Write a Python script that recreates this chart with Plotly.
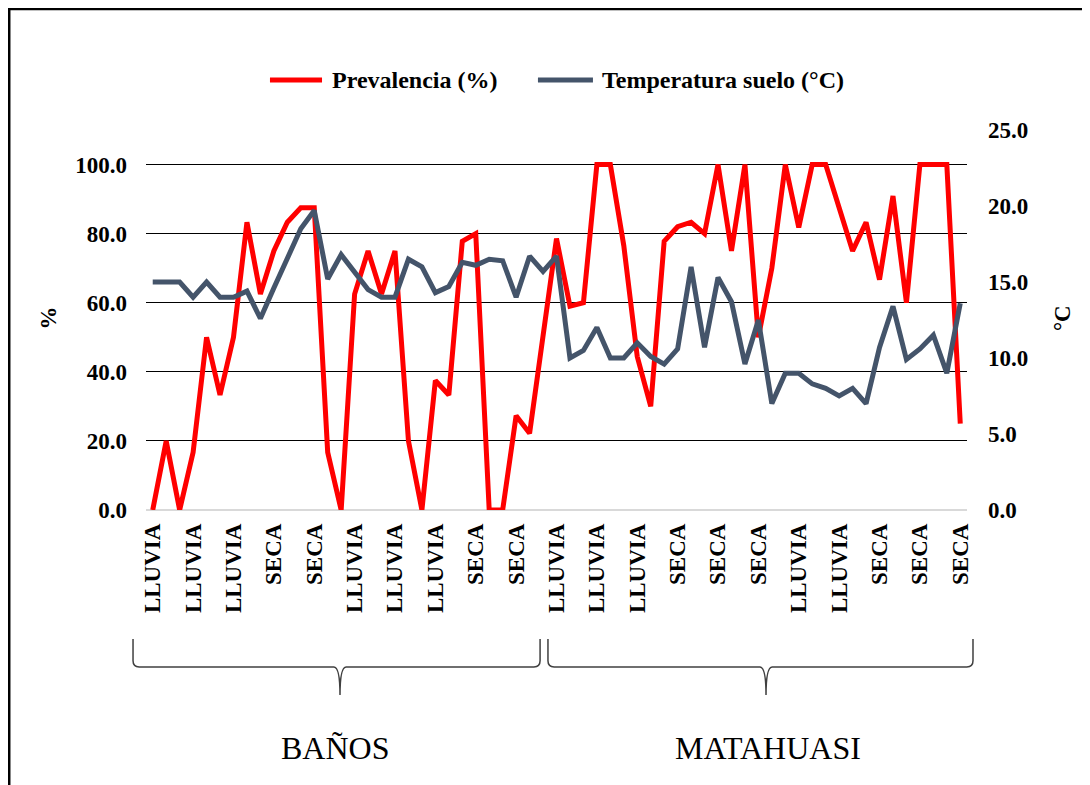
import plotly.graph_objects as go

# ---------------- data ----------------
indices = list(range(61))
prevalencia = [0, 20, 0, 16.7, 50, 33.3, 50, 83.3, 62.5, 75, 83.3, 87.5, 87.5, 16.7, 0,
               62.5, 75, 62.5, 75, 20, 0, 37.5, 33.3, 77.8, 80, 0, 0, 27.3, 22.2, 50,
               78.6, 59, 60, 100, 100, 76.5, 44.4, 30, 77.8, 82, 83.3, 80, 100, 75, 100,
               50, 70, 100, 81.8, 100, 100, 87.5, 75, 83.3, 66.7, 90.9, 60, 100, 100, 100, 25]
temperatura = [15.0, 15.0, 15.0, 14.0, 15.0, 14.0, 14.0, 14.4, 12.6, 14.6, 16.6, 18.5, 19.7, 15.2, 16.8,
               15.7, 14.5, 14.0, 14.0, 16.5, 16.0, 14.3, 14.7, 16.3, 16.1, 16.5, 16.4, 14.0, 16.7, 15.7,
               16.7, 10.0, 10.5, 12.0, 10.0, 10.0, 11.0, 10.1, 9.6, 10.6, 16.0, 10.7, 15.3, 13.7, 9.6,
               12.5, 7.0, 9.0, 9.0, 8.3, 8.0, 7.5, 8.0, 7.0, 10.7, 13.4, 9.9, 10.6, 11.5, 9.0, 13.6]
etiquetas = (["LLUVIA"] * 3 + ["SECA"] * 2 + ["LLUVIA"] * 3 + ["SECA"] * 2 +
             ["LLUVIA"] * 3 + ["SECA"] * 3 + ["LLUVIA"] * 2 + ["SECA"] * 3)
posiciones = list(range(0, 61, 3))
grupos = ["BAÑOS", "MATAHUASI"]
series = ["Prevalencia (%)", "Temperatura suelo (°C)"]
colores = ["#FF0000", "#44546A"]

# layout helpers (paper coordinates)
grupo_rangos = [(-0.0158, 0.4800, 0.2363), (0.4896, 1.0073, 0.7552)]
grupo_texto_x = [0.2302, 0.7576]
leyenda_lineas = [(0.1510, 0.2144), (0.4774, 0.5444)]
leyenda_texto_x = [0.2241, 0.5530]

FONT = "Liberation Serif, Times New Roman, serif"

fig = go.Figure()
fig.add_trace(go.Scatter(x=indices, y=prevalencia, mode="lines", name=series[0],
                         line=dict(color=colores[0], width=5)))
fig.add_trace(go.Scatter(x=indices, y=temperatura, mode="lines", name=series[1],
                         yaxis="y2", line=dict(color=colores[1], width=5)))

fig.update_layout(
    width=1090, height=785,
    margin=dict(l=138, r=131, t=122, b=283),
    paper_bgcolor="white", plot_bgcolor="white",
    font=dict(family=FONT, color="black"),
    showlegend=False,
    xaxis=dict(range=[-0.5, 60.5], tickmode="array", tickvals=posiciones, ticktext=etiquetas,
               tickangle=-90, showgrid=False, zeroline=False, showline=False, ticks="",
               ticklabelstandoff=8,
               tickfont=dict(family=FONT, size=23, weight="bold")),
    yaxis=dict(range=[0, 110], tickmode="array", tickvals=[0, 20, 40, 60, 80, 100],
               tickformat=".1f", showgrid=True, gridcolor="black", gridwidth=1.3,
               zeroline=True, zerolinecolor="#D9D9D9", zerolinewidth=1.5, showline=False,
               ticks="", ticklabelstandoff=18,
               tickfont=dict(family=FONT, size=23, weight="bold")),
    yaxis2=dict(range=[0, 25], tickmode="array", tickvals=[0, 5, 10, 15, 20, 25],
                tickformat=".1f", overlaying="y", side="right", showgrid=False,
                zeroline=False, showline=False, ticks="", ticklabelstandoff=20,
                tickfont=dict(family=FONT, size=23, weight="bold")),
)

annotations = [
    dict(text="%", x=-0.119, y=0.505, xref="paper", yref="paper", showarrow=False,
         xanchor="center", yanchor="middle",
         textangle=-90, font=dict(family=FONT, size=23, weight="bold")),
    dict(text="°C", x=1.1157, y=0.505, xref="paper", yref="paper", showarrow=False,
         xanchor="center", yanchor="middle",
         textangle=-90, font=dict(family=FONT, size=23, weight="bold")),
]
shapes = [
    dict(type="rect", xref="paper", yref="paper", x0=-0.1666, x1=1.3, y0=-0.9, y1=1.3184,
         line=dict(color="black", width=2.5), fillcolor="rgba(0,0,0,0)", layer="below"),
]

# custom legend (longer line samples like the original)
y_leg = 1.1316
for nombre, color, (lx0, lx1), tx in zip(series, colores, leyenda_lineas, leyenda_texto_x):
    shapes.append(dict(type="line", xref="paper", yref="paper", x0=lx0, x1=lx1,
                       y0=y_leg, y1=y_leg, line=dict(color=color, width=5)))
    annotations.append(dict(text=nombre, x=tx, y=y_leg, xref="paper", yref="paper",
                            showarrow=False, xanchor="left", yanchor="middle",
                            font=dict(family=FONT, size=24, weight="bold")))

# group braces
y_top, y_h, y_tip = -0.3395, -0.413, -0.487
dx, dy = 0.0075, 0.016
for nombre, (a, b, m), tx in zip(grupos, grupo_rangos, grupo_texto_x):
    path = (f"M {a},{y_top} L {a},{y_h + dy} Q {a},{y_h} {a + dx},{y_h} "
            f"L {m - dx},{y_h} Q {m},{y_h} {m},{y_tip} Q {m},{y_h} {m + dx},{y_h} "
            f"L {b - dx},{y_h} Q {b},{y_h} {b},{y_h + dy} L {b},{y_top}")
    shapes.append(dict(type="path", xref="paper", yref="paper", path=path,
                       line=dict(color="#404040", width=1.5)))
    annotations.append(dict(text=nombre, x=tx, y=-0.626, xref="paper", yref="paper",
                            showarrow=False, xanchor="center", yanchor="middle",
                            font=dict(family=FONT, size=32)))

fig.update_layout(annotations=annotations, shapes=shapes)
fig.write_html("out.html")
